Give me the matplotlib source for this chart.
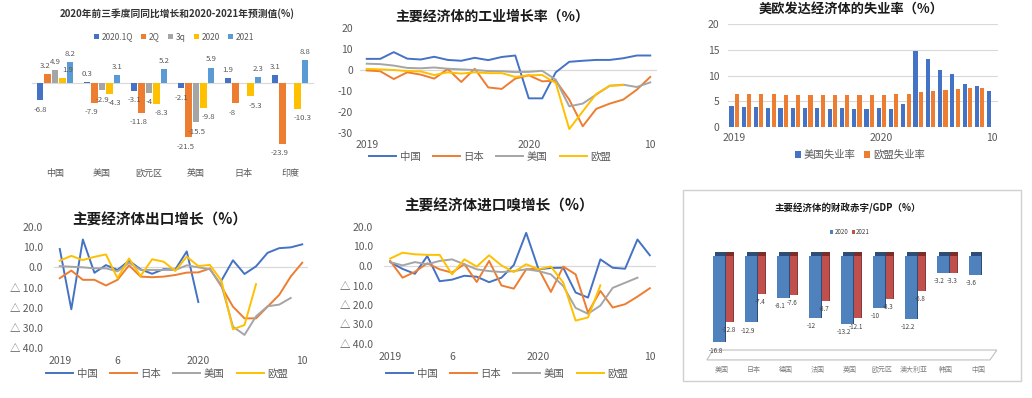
import numpy as np
import matplotlib
matplotlib.use('Agg')
import matplotlib.pyplot as plt
from matplotlib.patches import Rectangle, Polygon
from matplotlib.ticker import FuncFormatter

plt.rcParams['font.family'] = ['Noto Sans CJK SC', 'DejaVu Sans']
plt.rcParams['axes.unicode_minus'] = False

nan = np.nan

# ---------------- data ----------------
# Panel 1: GDP growth
gdp_countries = ['中国', '美国', '欧元区', '英国', '日本', '印度']
gdp_labels = ['2020.1Q', '2Q', '3q', '2020', '2021']
gdp_q1 = [-6.8, 0.3, -3.1, -2.1, 1.9, 3.1]
gdp_q2 = [3.2, -7.9, -11.8, -21.5, -8, -23.9]
gdp_q3 = [4.9, -2.9, -4, -15.5, nan, nan]
gdp_2020 = [1.9, -4.3, -8.3, -9.8, -5.3, -10.3]
gdp_2021 = [8.2, 3.1, 5.2, 5.9, 2.3, 8.8]

# monthly series Jan 2019 .. Oct 2020
line_labels = ['中国', '日本', '美国', '欧盟']
month_ticks_a = [0, 12, 21]
month_labels_a = ['2019', '2020', '10']
month_ticks_b = [0, 5, 12, 21]
month_labels_b = ['2019', '6', '2020', '10']

ind_cn = [5.3, 5.3, 8.5, 5.4, 5.0, 6.3, 4.8, 4.4, 5.8, 4.7, 6.2, 6.9,
          -13.5, -13.5, -1.1, 3.9, 4.4, 4.8, 4.8, 5.6, 6.9, 6.9]
ind_jp = [-0.2, -0.6, -4.3, -1.1, -2.2, -4.1, 0.5, -5.7, 0.6, -8.3, -9.0, -4.1,
          -2.5, -5.4, -5.1, -14.1, -26.8, -18.5, -16.0, -14.1, -9.4, -3.3]
ind_us = [3.0, 2.8, 2.1, 1.0, 0.8, 1.2, 0.6, 0.3, 0.0, -0.5, -0.6, -1.0,
          -0.9, -0.4, -4.6, -17.3, -16.0, -11.7, -7.5, -7.0, -8.1, -5.9]
ind_eu = [0.5, 0.3, 0.0, -0.5, -0.7, -2.4, -1.1, -1.7, -1.1, -1.5, -1.5, -3.3,
          -2.5, -2.4, -6.2, -28.1, -19.7, -11.4, -7.5, -7.2, nan, nan]

unemp_labels = ['美国失业率', '欧盟失业率']
unemp_us = [4.0, 3.8, 3.8, 3.6, 3.6, 3.7, 3.7, 3.7, 3.5, 3.6, 3.5, 3.5,
            3.6, 3.5, 4.4, 14.7, 13.3, 11.1, 10.2, 8.4, 7.9, 6.9]
unemp_eu = [6.5, 6.5, 6.4, 6.4, 6.3, 6.3, 6.3, 6.3, 6.2, 6.2, 6.2, 6.2,
            6.2, 6.5, 6.5, 6.7, 6.9, 7.1, 7.3, 7.6, 7.5, nan]

exp_cn = [9.1, -20.8, 13.8, -2.7, 1.1, -1.3, 3.3, -1.0, -3.2, -0.9, -1.1, 7.9,
          -17.2, nan, -6.6, 3.5, -3.3, 0.5, 7.2, 9.5, 9.9, 11.4]
exp_jp = [-5.4, -1.6, -6.2, -6.2, -9.0, -6.2, 1.0, -4.6, -4.9, -4.6, -3.8, -2.6,
          -2.5, -0.6, -9.5, -19.5, -25.3, -25.3, -19.5, -13.7, -4.6, 2.3]
exp_us = [0.6, 0.3, 0.0, -0.5, -0.5, -2.0, 2.3, -1.3, -1.3, -1.3, -1.3, 1.0,
          0.0, -1.0, -8.7, -29.4, -33.5, -24.3, -19.3, -18.5, -15.2, nan]
exp_eu = [3.3, 5.7, 3.6, 5.2, 6.4, -5.4, 4.4, -4.3, 4.0, 2.8, -1.8, 5.3,
          0.6, 1.2, -6.6, -30.7, -28.6, -8.3, nan, nan, nan, nan]

imp_cn = [2.0, -1.5, -4.0, 5.1, -7.8, -7.0, -5.0, -5.5, -8.3, -6.0, 0.5, 17.0,
          -1.7, -1.0, -0.9, -13.6, -16.2, 3.4, -0.9, -1.4, 13.6, 5.5]
imp_jp = [2.6, -6.0, -3.0, 1.4, -1.7, -3.4, 1.0, -8.2, 2.6, -10.0, -11.6, -1.7,
          -1.4, -13.3, -0.3, -4.3, -23.9, -12.8, -21.3, -19.6, -15.7, -11.4]
imp_us = [2.0, 0.3, 2.0, 0.9, 2.6, 3.4, 0.9, -1.7, -2.6, -3.1, -2.6, -1.7,
          -2.6, -4.3, -10.3, -21.5, -24.5, -20.3, -11.2, -8.6, -6.0, nan]
imp_eu = [3.8, 6.8, 6.0, 5.7, 5.7, -4.3, 3.4, -0.3, 5.5, 0.3, -3.1, 0.9,
          -1.7, -0.3, -8.5, -28.0, -26.4, -9.9, nan, nan, nan, nan]

deficit_countries = ['美国', '日本', '德国', '法国', '英国', '欧元区', '澳大利亚', '韩国', '中国']
deficit_labels = ['2020', '2021']
deficit_2020 = [-16.8, -12.9, -8.1, -12, -13.2, -10, -12.2, -3.2, -3.6]
deficit_2021 = [-12.8, -7.4, -7.6, -8.7, -12.1, -8.3, -6.8, -3.3, nan]

# ---------------- style ----------------
BLUE = '#4472C4'
ORANGE = '#ED7D31'
GRAY = '#A5A5A5'
YELLOW = '#FFC000'
LBLUE = '#5B9BD5'
TXT = '#595959'
GRID = '#D9D9D9'
line_colors = [BLUE, ORANGE, GRAY, YELLOW]

W, H = 1032, 398
fig = plt.figure(figsize=(W / 100, H / 100), dpi=100)


def box(l, t, r, b):
    return fig.add_axes([l / W, 1 - b / H, (r - l) / W, (b - t) / H])


def ftxt(x, y, s, **kw):
    fig.text(x / W, 1 - y / H, s, **kw)


def clean(ax):
    for s in ax.spines.values():
        s.set_visible(False)


# ---------------- Panel 1 ----------------
ax1 = box(31.5, 40, 313.5, 165)
clean(ax1)
x = np.arange(len(gdp_countries))
gdp_series = [gdp_q1, gdp_q2, gdp_q3, gdp_2020, gdp_2021]
gdp_colors = [BLUE, ORANGE, GRAY, YELLOW, LBLUE]
label_dx = [0, -2.0, 0.5, 3.5, 0]   # small horizontal nudges of value labels (pt)
for k, (vals, col, lab) in enumerate(zip(gdp_series, gdp_colors, gdp_labels)):
    xs = x + (k - 2) * 0.16
    v = np.array(vals, float)
    ax1.bar(xs, v, width=0.135, color=col, label=lab, zorder=2)
    for xi, vi in zip(xs, v):
        if np.isnan(vi):
            continue
        ax1.annotate(f'{vi:g}', (xi, vi), xytext=(label_dx[k], 3 if vi > 0 else -4),
                     textcoords='offset points', ha='center',
                     va='bottom' if vi > 0 else 'top', fontsize=5.6, color=TXT)
ax1.axhline(0, color=GRID, lw=0.8, zorder=1)
ax1.set_xlim(-0.5, len(gdp_countries) - 0.5)
ax1.set_ylim(-32.3, 16.7)
ax1.set_yticks([])
ax1.set_xticks(x, gdp_countries)
ax1.tick_params(axis='x', length=0, pad=3, labelsize=6.5, labelcolor=TXT)
ax1.legend(loc='center', bbox_to_anchor=(174 / W, 1 - 37 / H),
           bbox_transform=fig.transFigure, ncol=5, fontsize=6, frameon=False,
           handlelength=0.6, handleheight=0.6, columnspacing=1.0,
           handletextpad=0.3, labelcolor=TXT)
ftxt(177, 14, '2020年前三季度同同比增长和2020-2021年预测值(%)', fontsize=7,
     fontweight='bold', color='#333333', ha='center', va='center')


# ---------------- line panels helper ----------------
def line_panel(ax, series, ylim, yticks, xt, xl, fmt=None, ypad=5, xpad=6):
    clean(ax)
    idx = np.arange(22)
    for vals, col, lab in zip(series, line_colors, line_labels):
        ax.plot(idx, vals, color=col, lw=1.4, label=lab, zorder=3)
    ax.axhline(0, color=GRID, lw=0.9, zorder=1)
    ax.set_xlim(-0.5, 21.5)
    ax.set_ylim(*ylim)
    ax.set_yticks(yticks)
    if fmt is not None:
        ax.yaxis.set_major_formatter(FuncFormatter(fmt))
    ax.set_xticks(xt, xl)
    ax.tick_params(axis='y', length=0, pad=ypad, labelsize=7.5, labelcolor=TXT)
    ax.tick_params(axis='x', length=0, pad=xpad, labelsize=7.5, labelcolor=TXT)


def line_legend(ax, cx, cy):
    ax.legend(loc='center', bbox_to_anchor=(cx / W, 1 - cy / H),
              bbox_transform=fig.transFigure, ncol=4, fontsize=7.5,
              frameon=False, handlelength=2.6, columnspacing=1.2,
              handletextpad=0.3, labelcolor=TXT)


def tri_fmt(v, pos):
    return f'△ {abs(v):.1f}' if v < 0 else f'{v:.1f}'


# ---------------- Panel 2: industrial ----------------
ax2 = box(360, 28, 657, 133)
line_panel(ax2, [ind_cn, ind_jp, ind_us, ind_eu], (-30, 20),
           list(range(-30, 21, 10)), month_ticks_a, month_labels_a,
           ypad=5, xpad=5)
line_legend(ax2, 490, 157)
ftxt(492, 17, '主要经济体的工业增长率（%）', fontsize=10, fontweight='bold',
     color='#1a1a1a', ha='center', va='center')

# ---------------- Panel 3: unemployment ----------------
ax3 = box(728, 24, 998, 127)
clean(ax3)
xm = np.arange(22)
ax3.bar(xm - 0.22, unemp_us, width=0.34, color=BLUE, label=unemp_labels[0], zorder=2)
ax3.bar(xm + 0.22, unemp_eu, width=0.34, color=ORANGE, label=unemp_labels[1], zorder=2)
ax3.set_xlim(-0.5, 21.5)
ax3.set_ylim(0, 20)
ax3.set_yticks(range(0, 21, 5))
ax3.yaxis.grid(True, color=GRID, lw=0.8, zorder=0)
ax3.set_axisbelow(True)
ax3.set_xticks(month_ticks_a, month_labels_a)
ax3.tick_params(axis='y', length=0, pad=6, labelsize=7.5, labelcolor=TXT)
ax3.tick_params(axis='x', length=0, pad=4, labelsize=7.5, labelcolor=TXT)
ax3.legend(loc='center', bbox_to_anchor=(860 / W, 1 - 155 / H),
           bbox_transform=fig.transFigure, ncol=2, fontsize=7.5, frameon=False,
           handlelength=0.6, handleheight=0.6, columnspacing=0.8,
           handletextpad=0.3, labelcolor=TXT)
ftxt(851, 10, '美欧发达经济体的失业率（%）', fontsize=9.5, fontweight='bold',
     color='#1a1a1a', ha='center', va='center')

# ---------------- Panel 4: exports ----------------
ax4 = box(54, 227, 308, 348)
line_panel(ax4, [exp_cn, exp_jp, exp_us, exp_eu], (-40, 20),
           list(range(-40, 21, 10)), month_ticks_b, month_labels_b,
           fmt=tri_fmt, ypad=8, xpad=6)
line_legend(ax4, 167, 374)
ftxt(160, 220, '主要经济体出口增长（%）', fontsize=10.5, fontweight='bold',
     color='#1a1a1a', ha='center', va='center')

# ---------------- Panel 5: imports ----------------
ax5 = box(384, 227, 656, 344)
line_panel(ax5, [imp_cn, imp_jp, imp_us, imp_eu], (-40, 20),
           list(range(-40, 21, 10)), month_ticks_b, month_labels_b,
           fmt=tri_fmt, ypad=8, xpad=6)
line_legend(ax5, 507, 374)
ftxt(499, 206, '主要经济体进口嗅增长（%）', fontsize=10.5, fontweight='bold',
     color='#1a1a1a', ha='center', va='center')

# ---------------- Panel 6: fiscal deficit ----------------
fig.patches.append(Rectangle((683 / W, 1 - 381 / H), (1021 - 683) / W, (381 - 190) / H,
                             transform=fig.transFigure, fill=False,
                             edgecolor='#D0D0D0', lw=1.0))
ax6 = box(706, 248, 994, 362)
clean(ax6)
xc = np.arange(len(deficit_countries))
d20 = np.array(deficit_2020, float)
d21 = np.array(deficit_2021, float)
cap = 0.9
# 2021 (behind)
ax6.bar(xc + 0.22, d21, width=0.34, color='#8C3836', zorder=1)
h21 = ax6.bar(xc + 0.16, d21, width=0.34, color='#C0504D', zorder=2)
ax6.bar(xc + 0.22, np.where(np.isnan(d21), nan, cap), width=0.34,
        color='#7A2E2C', zorder=1)
# 2020 (front)
ax6.bar(xc - 0.04, d20, width=0.36, color='#2C4D75', zorder=3)
h20 = ax6.bar(xc - 0.10, d20, width=0.36, color='#4F81BD', zorder=4)
ax6.bar(xc - 0.04, np.full(len(xc), cap), width=0.36, color='#2C4D75', zorder=3)
for xi, v in zip(xc, d20):
    ax6.annotate(f'{v:g}', (xi - 0.2, v), xytext=(0, -3), textcoords='offset points',
                 ha='center', va='top', fontsize=4.5, color='#404040', zorder=6)
for xi, v in zip(xc, d21):
    if np.isnan(v):
        continue
    ax6.annotate(f'{v:g}', (xi + 0.2, v), xytext=(0, -3), textcoords='offset points',
                 ha='center', va='top', fontsize=4.5, color='#404040', zorder=6)
ax6.set_xlim(-0.5, len(deficit_countries) - 0.5)
ax6.set_ylim(-20.6, 1.6)
ax6.set_yticks([])
ax6.set_xticks(xc, deficit_countries)
ax6.tick_params(axis='x', length=0, pad=3, labelsize=5, labelcolor='#7F7F7F')
floor = Polygon([(0.003, 0.018), (0.024, 0.105), (1.01, 0.105), (0.986, 0.018)],
                closed=True, transform=ax6.transAxes, fill=False,
                edgecolor='#BFBFBF', lw=0.8, clip_on=False, zorder=0)
ax6.add_patch(floor)
ax6.legend([h20, h21], deficit_labels, loc='center',
           bbox_to_anchor=(850 / W, 1 - 232 / H),
           bbox_transform=fig.transFigure, ncol=2, fontsize=4.5, frameon=False,
           handlelength=0.5, handleheight=0.5, columnspacing=0.6,
           handletextpad=0.2, labelcolor='#404040')
ftxt(848, 208, '主要经济体的财政赤字/GDP（%）', fontsize=6.8, fontweight='bold',
     color='#1a1a1a', ha='center', va='center')

fig.savefig('out.png', dpi=100)
